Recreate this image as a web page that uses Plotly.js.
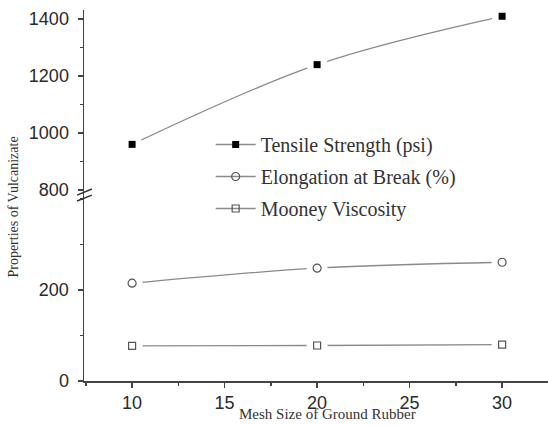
<!DOCTYPE html>
<html>
<head>
<meta charset="utf-8">
<script src="https://cdn.plot.ly/plotly-3.0.1.min.js"></script>
<style>html,body{margin:0;padding:0;background:#fff;}#chart{width:548px;height:425px;}</style>
</head>
<body>
<div id="chart"></div>
<script>
// Data
var meshSize = [10, 20, 30];
var tensileStrength = [960, 1240, 1410];
var elongation = [215, 248, 261];
var mooney = [77, 78, 80];
var seriesNames = ["Tensile Strength (psi)", "Elongation at Break (%)", "Mooney Viscosity"];
var xTitle = "Mesh Size of Ground Rubber";
var yTitle = "Properties of Vulcanizate";
var lowerTicks = [0, 200];
var upperTicks = [800, 1000, 1200, 1400];

var lineStyle = {color: "#8a8a8a", width: 1.3, shape: "spline"};
var markers = [
  {symbol: "square", size: 7, color: "#000", line: {width: 0}},
  {symbol: "circle-open", size: 8, color: "#555", line: {width: 1.2, color: "#555"}},
  {symbol: "square-open", size: 7, color: "#555", line: {width: 1.2, color: "#555"}}
];
var ys = [tensileStrength, elongation, mooney];
var yax = ["y2", "y", "y"];

var traces = [];
for (var i = 0; i < 3; i++) {
  traces.push({x: meshSize, y: ys[i], yaxis: yax[i], name: seriesNames[i], mode: "lines+markers",
    line: lineStyle, marker: markers[i], legendgroup: "g" + i, showlegend: true});
}
for (var i = 0; i < 3; i++) {
  traces.push({x: meshSize, y: ys[i], yaxis: yax[i], mode: "markers", showlegend: false, hoverinfo: "skip",
    marker: {symbol: "circle", size: 21, color: "#fff", line: {width: 0}}});
}
for (var i = 0; i < 3; i++) {
  traces.push({x: meshSize, y: ys[i], yaxis: yax[i], mode: "markers", showlegend: false,
    marker: markers[i]});
}

var tickFont = {family: "Liberation Sans, Arial, sans-serif", size: 18, color: "#2a2a2a"};
var axCommon = {showgrid: false, zeroline: false, showline: true, linecolor: "#444", linewidth: 1.5,
  ticks: "outside", ticklen: 5, tickwidth: 1.3, tickcolor: "#444", tickfont: tickFont, ticklabelstandoff: 5};

var layout = {
  width: 548, height: 425,
  margin: {l: 84, r: 0, t: 10, b: 44},
  paper_bgcolor: "#fff", plot_bgcolor: "#fff",
  showlegend: true,
  legend: {x: 0.273, y: 0.69, xanchor: "left", yanchor: "top", bgcolor: "rgba(0,0,0,0)",
    font: {family: "Liberation Serif, Times New Roman, serif", size: 20, color: "#333"},
    traceorder: "grouped", tracegroupgap: 3, itemwidth: 40},
  xaxis: Object.assign({}, axCommon, {range: [7.4, 32.48], dtick: 5, tick0: 0, anchor: "y", ticklabelstandoff: 0,
    minor: {dtick: 2.5, tick0: 0, ticklen: 3, tickcolor: "#444", ticks: "outside"}}),
  yaxis: Object.assign({}, axCommon, {domain: [0, 0.515], range: [0, 420], tickmode: "array", tickvals: lowerTicks, anchor: "x",
    minor: {dtick: 100, tick0: 0, ticklen: 3, tickcolor: "#444", ticks: "outside"}}),
  yaxis2: Object.assign({}, axCommon, {domain: [0.515, 1], range: [800, 1432], tickmode: "array", tickvals: upperTicks, anchor: "x",
    minor: {dtick: 100, tick0: 0, ticklen: 3, tickcolor: "#444", ticks: "outside"}}),
  annotations: [
    {text: yTitle, xref: "paper", yref: "paper", x: -0.151, y: 0.47, xanchor: "center", yanchor: "middle", textangle: -90, showarrow: false,
      font: {family: "Liberation Serif, Times New Roman, serif", size: 14, color: "#333"}},
    {text: xTitle, xref: "paper", yref: "paper", x: 0.524, y: -0.089, xanchor: "center", yanchor: "middle", showarrow: false,
      font: {family: "Liberation Serif, Times New Roman, serif", size: 15, color: "#333"}}
  ],
  shapes: [
    {type: "line", xref: "paper", yref: "paper", x0: -0.015, y0: 0.501, x1: 0.017, y1: 0.5175, line: {color: "#333", width: 1.5}},
    {type: "line", xref: "paper", yref: "paper", x0: -0.015, y0: 0.485, x1: 0.017, y1: 0.501, line: {color: "#333", width: 1.5}}
  ]
};

Plotly.newPlot("chart", traces, layout, {displayModeBar: false, staticPlot: true});
</script>
</body>
</html>
